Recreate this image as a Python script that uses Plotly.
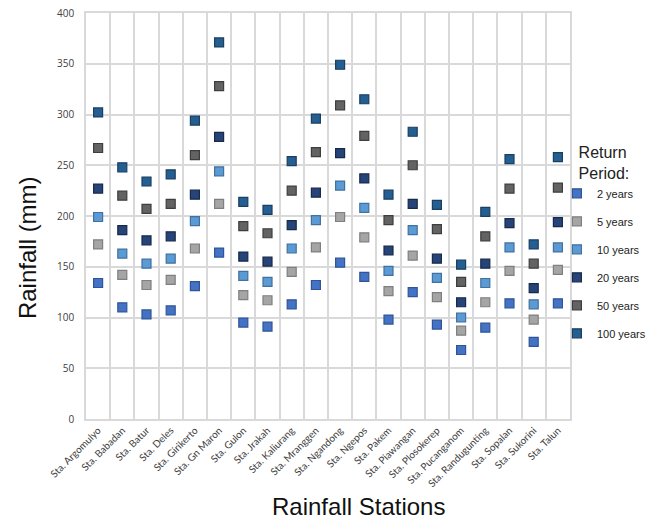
import plotly.graph_objects as go

stations = ["Sta. Argomulyo", "Sta. Babadan", "Sta. Batur", "Sta. Deles", "Sta. Girikerto",
            "Sta. Gn Maron", "Sta. Gulon", "Sta. Jrakah", "Sta. Kaliurang", "Sta. Mranggen",
            "Sta. Ngandong", "Sta. Ngepos", "Sta. Pakem", "Sta. Piawangan", "Sta. Plosokerep",
            "Sta. Pucanganom", "Sta. Randugunting", "Sta. Sopalan", "Sta. Sukorini", "Sta. Talun"]

rp_2 = [134, 110, 103, 107, 131, 164, 95, 91, 113, 132, 154, 140, 98, 125, 93, 68, 90, 114, 76, 114]
rp_5 = [172, 142, 132, 137, 168, 212, 122, 117, 145, 169, 199, 179, 126, 161, 120, 87, 115, 146, 98, 147]
rp_10 = [199, 163, 153, 158, 195, 244, 141, 135, 168, 196, 230, 208, 146, 186, 139, 100, 134, 169, 113, 169]
rp_20 = [227, 186, 176, 180, 221, 278, 160, 155, 191, 223, 262, 237, 166, 212, 158, 115, 153, 193, 129, 194]
rp_50 = [267, 220, 207, 212, 260, 328, 190, 183, 225, 263, 309, 279, 196, 250, 187, 135, 180, 227, 153, 228]
rp_100 = [302, 248, 234, 241, 294, 371, 214, 206, 254, 296, 349, 315, 221, 283, 211, 152, 204, 256, 172, 258]

series = [
    ("2 years", rp_2, "#4472C4", "#2F5597"),
    ("5 years", rp_5, "#A5A5A5", "#7F7F7F"),
    ("10 years", rp_10, "#5B9BD5", "#41719C"),
    ("20 years", rp_20, "#264478", "#172A4A"),
    ("50 years", rp_50, "#636363", "#3E3E3E"),
    ("100 years", rp_100, "#255E91", "#193F61"),
]

fig = go.Figure()
for name, vals, fill, line in series:
    fig.add_trace(go.Scatter(
        x=stations, y=vals, mode="markers", name=name, legendgroup=name,
        marker=dict(symbol="square", size=9, color=fill, line=dict(color=line, width=1.2)),
    ))

fig.update_layout(
    width=650, height=519,
    margin=dict(l=86, r=80, t=13, b=100, autoexpand=False),
    paper_bgcolor="white", plot_bgcolor="white",
    font=dict(family="Liberation Sans, Arial, sans-serif", color="#000000"),
    showlegend=True,
    legend=dict(
        title=dict(text="Return<br>Period:", side="top center",
                   font=dict(size=16, color="#222222")),
        x=0.973, y=0.694, xanchor="left", yanchor="top",
        font=dict(size=11, color="#222222"),
        itemsizing="trace", tracegroupgap=9, itemwidth=30,
        bgcolor="rgba(0,0,0,0)",
    ),
    xaxis=dict(
        type="category", tickson="boundaries",
        range=[-0.5, len(stations) - 0.5],
        showgrid=True, gridcolor="#D9D9D9", gridwidth=1.5,
        showline=True, linecolor="#D9D9D9", linewidth=1.5, mirror=True,
        tickangle=-45, ticks="",
        tickfont=dict(size=10, family="Lato, sans-serif", color="#404040"),
    ),
    yaxis=dict(
        range=[0, 400], dtick=50,
        showgrid=True, gridcolor="#D9D9D9", gridwidth=1.5,
        showline=True, linecolor="#D9D9D9", linewidth=1.5, mirror=True,
        zeroline=False, ticks="", ticklabelstandoff=8, ticklabeloverflow="allow",
        tickfont=dict(size=10, family="Open Sans, sans-serif", color="#404040"),
    ),
    annotations=[
        dict(text="Rainfall Stations", xref="paper", yref="paper", x=0.562, y=-0.2167,
             xanchor="center", yanchor="middle", showarrow=False,
             font=dict(size=24, color="#111111")),
        dict(text="Rainfall (mm)", xref="paper", yref="paper", x=-0.1219, y=0.421,
             xanchor="center", yanchor="middle", textangle=-90, showarrow=False,
             font=dict(size=24, color="#111111")),
    ],
)

fig.write_html(
    "out.html",
    config={"displayModeBar": False},
    post_script="document.body.style.margin='0';document.body.style.overflow='hidden';",
)
